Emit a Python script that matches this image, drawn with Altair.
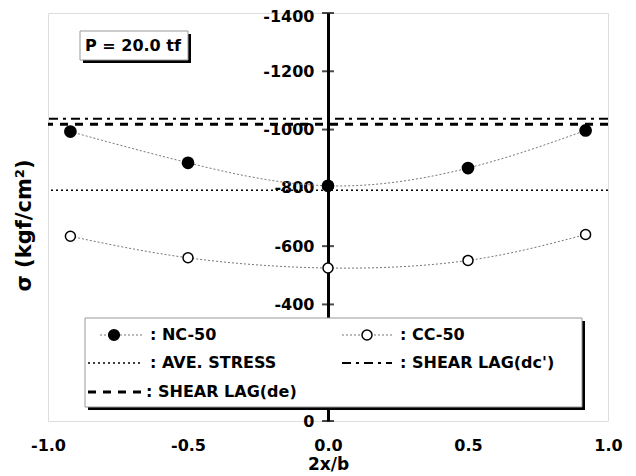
import altair as alt
import pandas as pd

# ---- data ----
x_pos = [-0.92, -0.5, 0.0, 0.5, 0.92]
nc50 = [-993, -886, -807, -868, -997]
cc50 = [-634, -560, -525, -551, -640]
ave_stress = [-792]
shear_lag_dc = [-1037]
shear_lag_de = [-1018]
y_ticks = [-1400, -1200, -1000, -800, -600, -400, -200, 0]
x_ticks = [-1.0, -0.5, 0.0, 0.5, 1.0]
legend_labels = [": NC-50", ": CC-50", ": AVE. STRESS", ": SHEAR LAG(dc')", ": SHEAR LAG(de)"]
load_label = "P = 20.0 tf"
x_title = "2x/b"
y_title = "σ (kgf/cm²)"

W, H = 560, 408
FONT = "DejaVu Sans"
FS = 16

nc_df = pd.DataFrame({"x": x_pos, "y": nc50})
cc_df = pd.DataFrame({"x": x_pos, "y": cc50})
tick_df = pd.DataFrame({"x0": [0.0] * len(y_ticks), "v": y_ticks})
one = pd.DataFrame({"a": [0]})

xs = alt.Scale(domain=[-1, 1], nice=False, zero=False)
ys = alt.Scale(domain=[-1400, 0], reverse=True, nice=False, zero=False)

x_axis = alt.Axis(
    values=x_ticks,
    labelExpr="datum.value < 0 ? '-' + format(-datum.value, '.1f') : format(datum.value, '.1f')",
    ticks=False, domain=False, grid=False, labelFlush=False,
    labelPadding=16, labelFont=FONT, labelFontSize=FS, labelFontWeight="bold",
    labelColor="black", title=x_title, titlePadding=3, titleFont=FONT,
    titleFontSize=17, titleFontWeight="bold", titleColor="black",
)
y_axis = alt.Axis(
    orient="left", offset=-W / 2, values=y_ticks,
    labelExpr="datum.value < 0 ? '-' + format(-datum.value, 'd') : format(datum.value, 'd')",
    labelOffset=alt.condition(f"datum.value == {y_ticks[0]}", alt.value(3), alt.value(0)),
    ticks=False, domain=True, domainColor="black", domainWidth=3, grid=False,
    labelPadding=14, labelFont=FONT, labelFontSize=FS, labelFontWeight="bold",
    labelColor="black", labelFlush=False, labelOverlap=False,
    title=y_title, titleX=-24 - W / 2, titleY=H / 2 + 8, titleAngle=-90,
    titleAlign="center", titleBaseline="middle", titleFont=FONT,
    titleFontSize=21, titleFontWeight="bold", titleColor="black",
)

X = alt.X("x:Q", scale=xs, axis=x_axis)
Y = alt.Y("y:Q", scale=ys, axis=y_axis)

curve_style = dict(interpolate="natural", color="#777777", strokeWidth=1, strokeDash=[2, 2])
nc_line = alt.Chart(nc_df).mark_line(**curve_style).encode(x=X, y=Y)
cc_line = alt.Chart(cc_df).mark_line(**curve_style).encode(x=X, y=Y)
nc_pts = alt.Chart(nc_df).mark_point(shape="circle", size=115, filled=True, fill="black",
                                     stroke="black", opacity=1).encode(x=X, y=Y)
cc_pts = alt.Chart(cc_df).mark_point(shape="circle", size=100, filled=True, fill="white",
                                     stroke="black", strokeWidth=1.5, opacity=1).encode(x=X, y=Y)

ave_rule = alt.Chart(pd.DataFrame({"y": ave_stress})).mark_rule(
    color="black", strokeWidth=1.5, strokeDash=[2, 3]).encode(y=alt.Y("y:Q", scale=ys))
dc_rule = alt.Chart(pd.DataFrame({"y": shear_lag_dc})).mark_rule(
    color="black", strokeWidth=2, strokeDash=[9, 5, 3, 5]).encode(y=alt.Y("y:Q", scale=ys))
de_rule = alt.Chart(pd.DataFrame({"y": shear_lag_de})).mark_rule(
    color="black", strokeWidth=3, strokeDash=[8, 7]).encode(y=alt.Y("y:Q", scale=ys))

cross_ticks = alt.Chart(tick_df).mark_tick(orient="horizontal", size=12, thickness=2,
                                           color="black").encode(
    x=alt.X("x0:Q", scale=xs), y=alt.Y("v:Q", scale=ys))


def rect(x1, x2, y1, y2, **kw):
    return alt.Chart(one).mark_rect(**kw).encode(
        x=alt.value(x1), x2=alt.value(x2), y=alt.value(y1), y2=alt.value(y2))


def hline(x1, x2, y, **kw):
    return alt.Chart(one).mark_rule(**kw).encode(
        x=alt.value(x1), x2=alt.value(x2), y=alt.value(y))


def label(x, y, t):
    return alt.Chart(one).mark_text(align="left", baseline="middle", font=FONT, fontSize=FS,
                                    fontWeight="bold", color="black").encode(
        x=alt.value(x), y=alt.value(y), text=alt.value(t))


def dot(x, y, fill, size):
    return alt.Chart(one).mark_point(shape="circle", size=size, filled=True, fill=fill,
                                     stroke="black", strokeWidth=1.5, opacity=1).encode(
        x=alt.value(x), y=alt.value(y))


r1, r2, r3 = 322, 350, 379
c1s, c1e, c1t = 40, 94, 102
c2s, c2e, c2t = 294, 344, 352

legend = [
    rect(40, 537, 308, 397, fill="black"),
    rect(37, 534, 305, 394, fill="white", stroke="#999999", strokeWidth=1),
    hline(c1s + 12, c1e, r1, color="#777777", strokeWidth=1, strokeDash=[2, 2]),
    dot(66, r1, "black", 115),
    label(c1t, r1, legend_labels[0]),
    hline(c2s, c2e, r1, color="#777777", strokeWidth=1, strokeDash=[2, 2]),
    dot(319, r1, "white", 100),
    label(c2t, r1, legend_labels[1]),
    hline(c1s, c1e, r2, color="black", strokeWidth=1.5, strokeDash=[2, 3]),
    label(c1t, r2, legend_labels[2]),
    hline(c2s, c2e, r2, color="black", strokeWidth=2, strokeDash=[9, 5, 3, 5]),
    label(c2t, r2, legend_labels[3]),
    hline(c1s, c1e, r3, color="black", strokeWidth=3, strokeDash=[8, 7]),
    label(c1t - 4, r3, legend_labels[4]),
]

pbox = [
    rect(35, 143, 21, 50, fill="black"),
    rect(32, 140, 18, 47, fill="white", stroke="#999999", strokeWidth=1),
    label(37, 33, load_label),
]

chart = alt.layer(
    ave_rule, dc_rule, de_rule, nc_line, cc_line, cross_ticks, nc_pts, cc_pts,
    *legend, *pbox,
).properties(
    width=W, height=H,
    autosize=alt.AutoSizeParams(type="none"),
    padding={"left": 40, "top": 5, "right": 20, "bottom": 55},
).configure_view(stroke="black", strokeWidth=3).configure(background="white")

chart.save("out.html", embed_options={"renderer": "svg", "actions": False})
